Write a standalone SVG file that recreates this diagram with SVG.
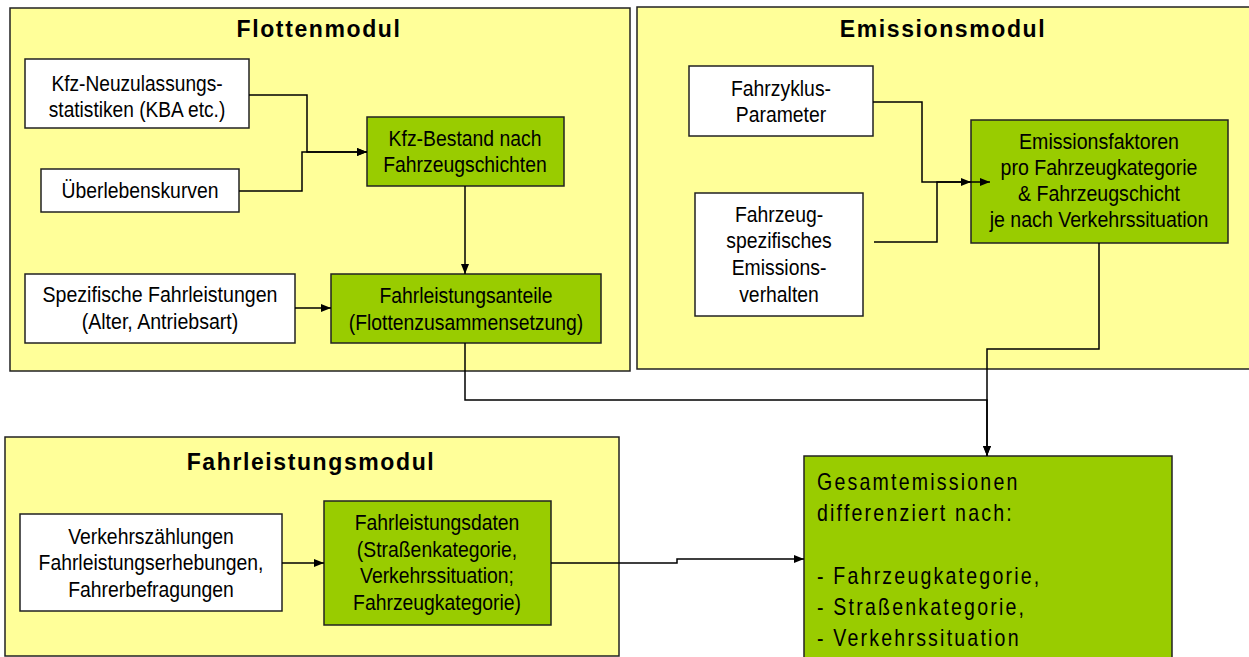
<svg xmlns="http://www.w3.org/2000/svg" width="1249" height="657" viewBox="0 0 1249 657">
<style>
.mod{fill:#FFFF99;stroke:#222;stroke-width:1.5}
.wb{fill:#FFFFFF;stroke:#222;stroke-width:1.5}
.gb{fill:#99CC00;stroke:#222;stroke-width:1.5}
.t{font-family:"Liberation Sans",Arial,sans-serif;font-size:22px;fill:#000;text-anchor:middle}
.title{font-family:"Liberation Sans",Arial,sans-serif;font-size:23px;font-weight:bold;letter-spacing:1.6px;fill:#000;text-anchor:middle}
.g{font-family:"Liberation Sans",Arial,sans-serif;font-size:23px;letter-spacing:2.6px;fill:#000}
.c{fill:none;stroke:#000;stroke-width:1.5}
</style>
<defs>
<marker id="ah" viewBox="0 0 10 10" refX="10" refY="5" markerWidth="10" markerHeight="10" markerUnits="userSpaceOnUse" orient="auto">
<path d="M0,1 L10,5 L0,9 Z" fill="#000"/>
</marker>
</defs>

<g id="flottenmodul">
<rect class="mod" x="10" y="8" width="620" height="363"/>
<text class="title" x="319" y="37">Flottenmodul</text>
</g>
<g id="emissionsmodul">
<rect class="mod" x="637" y="7" width="620" height="362"/>
<text class="title" x="943" y="37">Emissionsmodul</text>
</g>
<g id="fahrleistungsmodul">
<rect class="mod" x="5" y="437" width="614" height="219"/>
<text class="title" x="311" y="470">Fahrleistungsmodul</text>
</g>

<g id="kfz-neuzulassung">
<rect class="wb" x="25" y="59" width="224" height="69"/>
<g transform="translate(137,0) scale(0.87,1)">
<text class="t" x="0" y="91">Kfz-Neuzulassungs-</text>
<text class="t" x="0" y="117">statistiken  (KBA etc.)</text>
</g>
</g>
<g id="ueberlebenskurven">
<rect class="wb" x="41" y="169" width="198" height="43"/>
<g transform="translate(140,0) scale(0.88,1)">
<text class="t" x="0" y="198">Überlebenskurven</text>
</g>
</g>
<g id="kfz-bestand">
<rect class="gb" x="367" y="117" width="197" height="69"/>
<g transform="translate(465,0) scale(0.88,1)">
<text class="t" x="0" y="146">Kfz-Bestand  nach</text>
<text class="t" x="0" y="172">Fahrzeugschichten</text>
</g>
</g>
<g id="spezifische-fahrleistungen">
<rect class="wb" x="25" y="274" width="270" height="69"/>
<g transform="translate(160,0) scale(0.89,1)">
<text class="t" x="0" y="302">Spezifische Fahrleistungen</text>
<text class="t" x="0" y="329">(Alter,  Antriebsart)</text>
</g>
</g>
<g id="fahrleistungsanteile">
<rect class="gb" x="331" y="274" width="270" height="69"/>
<g transform="translate(466,0) scale(0.88,1)">
<text class="t" x="0" y="303">Fahrleistungsanteile</text>
<text class="t" x="0" y="330">(Flottenzusammensetzung)</text>
</g>
</g>

<g id="fahrzyklus">
<rect class="wb" x="689" y="66" width="184" height="70"/>
<g transform="translate(781,0) scale(0.88,1)">
<text class="t" x="0" y="96">Fahrzyklus-</text>
<text class="t" x="0" y="122">Parameter</text>
</g>
</g>
<g id="fahrzeug-emissionsverhalten">
<rect class="wb" x="695" y="193" width="168" height="123"/>
<g transform="translate(779,0) scale(0.88,1)">
<text class="t" x="0" y="222">Fahrzeug-</text>
<text class="t" x="0" y="248">spezifisches</text>
<text class="t" x="0" y="275">Emissions-</text>
<text class="t" x="0" y="302">verhalten</text>
</g>
</g>
<g id="emissionsfaktoren">
<rect class="gb" x="971" y="120" width="257" height="123"/>
<g transform="translate(1099,0) scale(0.89,1)">
<text class="t" x="0" y="149">Emissionsfaktoren</text>
<text class="t" x="0" y="175">pro Fahrzeugkategorie</text>
<text class="t" x="0" y="201">&amp; Fahrzeugschicht</text>
<text class="t" x="0" y="227">je nach Verkehrssituation</text>
</g>
</g>

<g id="verkehrszaehlungen">
<rect class="wb" x="20" y="514" width="262" height="97"/>
<g transform="translate(151,0) scale(0.88,1)">
<text class="t" x="0" y="544">Verkehrszählungen</text>
<text class="t" x="0" y="570">Fahrleistungserhebungen,</text>
<text class="t" x="0" y="597">Fahrerbefragungen</text>
</g>
</g>
<g id="fahrleistungsdaten">
<rect class="gb" x="324" y="501" width="227" height="124"/>
<g transform="translate(437,0) scale(0.88,1)">
<text class="t" x="0" y="530">Fahrleistungsdaten</text>
<text class="t" x="0" y="557">(Straßenkategorie,</text>
<text class="t" x="0" y="583">Verkehrssituation;</text>
<text class="t" x="0" y="610">Fahrzeugkategorie)</text>
</g>
</g>

<g id="gesamtemissionen">
<rect class="gb" x="804" y="456" width="368" height="210"/>
<g transform="translate(817,0) scale(0.85,1)">
<text class="g" x="0" y="490">Gesamtemissionen</text>
<text class="g" x="0" y="521">differenziert nach:</text>
<text class="g" x="0" y="584">- Fahrzeugkategorie,</text>
<text class="g" x="0" y="615">- Straßenkategorie,</text>
<text class="g" x="0" y="646">- Verkehrssituation</text>
</g>
</g>

<g id="connectors">
<path class="c" d="M249,95 H307 V152 H367" marker-end="url(#ah)"/>
<path class="c" d="M239,191 H302 V152 H367" marker-end="url(#ah)"/>
<path class="c" d="M465,186 V274" marker-end="url(#ah)"/>
<path class="c" d="M295,308 H331" marker-end="url(#ah)"/>
<path class="c" d="M873,102 H922 V182 H971" marker-end="url(#ah)"/>
<path class="c" d="M874,242 H937 V182 H990" marker-end="url(#ah)"/>
<path class="c" d="M465,343 V400 H987 V456" marker-end="url(#ah)"/>
<path class="c" d="M1099,243 V349 H987 V456" marker-end="url(#ah)"/>
<path class="c" d="M282,563 H324" marker-end="url(#ah)"/>
<path class="c" d="M551,563 H677 V559 H804" marker-end="url(#ah)"/>
</g>
</svg>
